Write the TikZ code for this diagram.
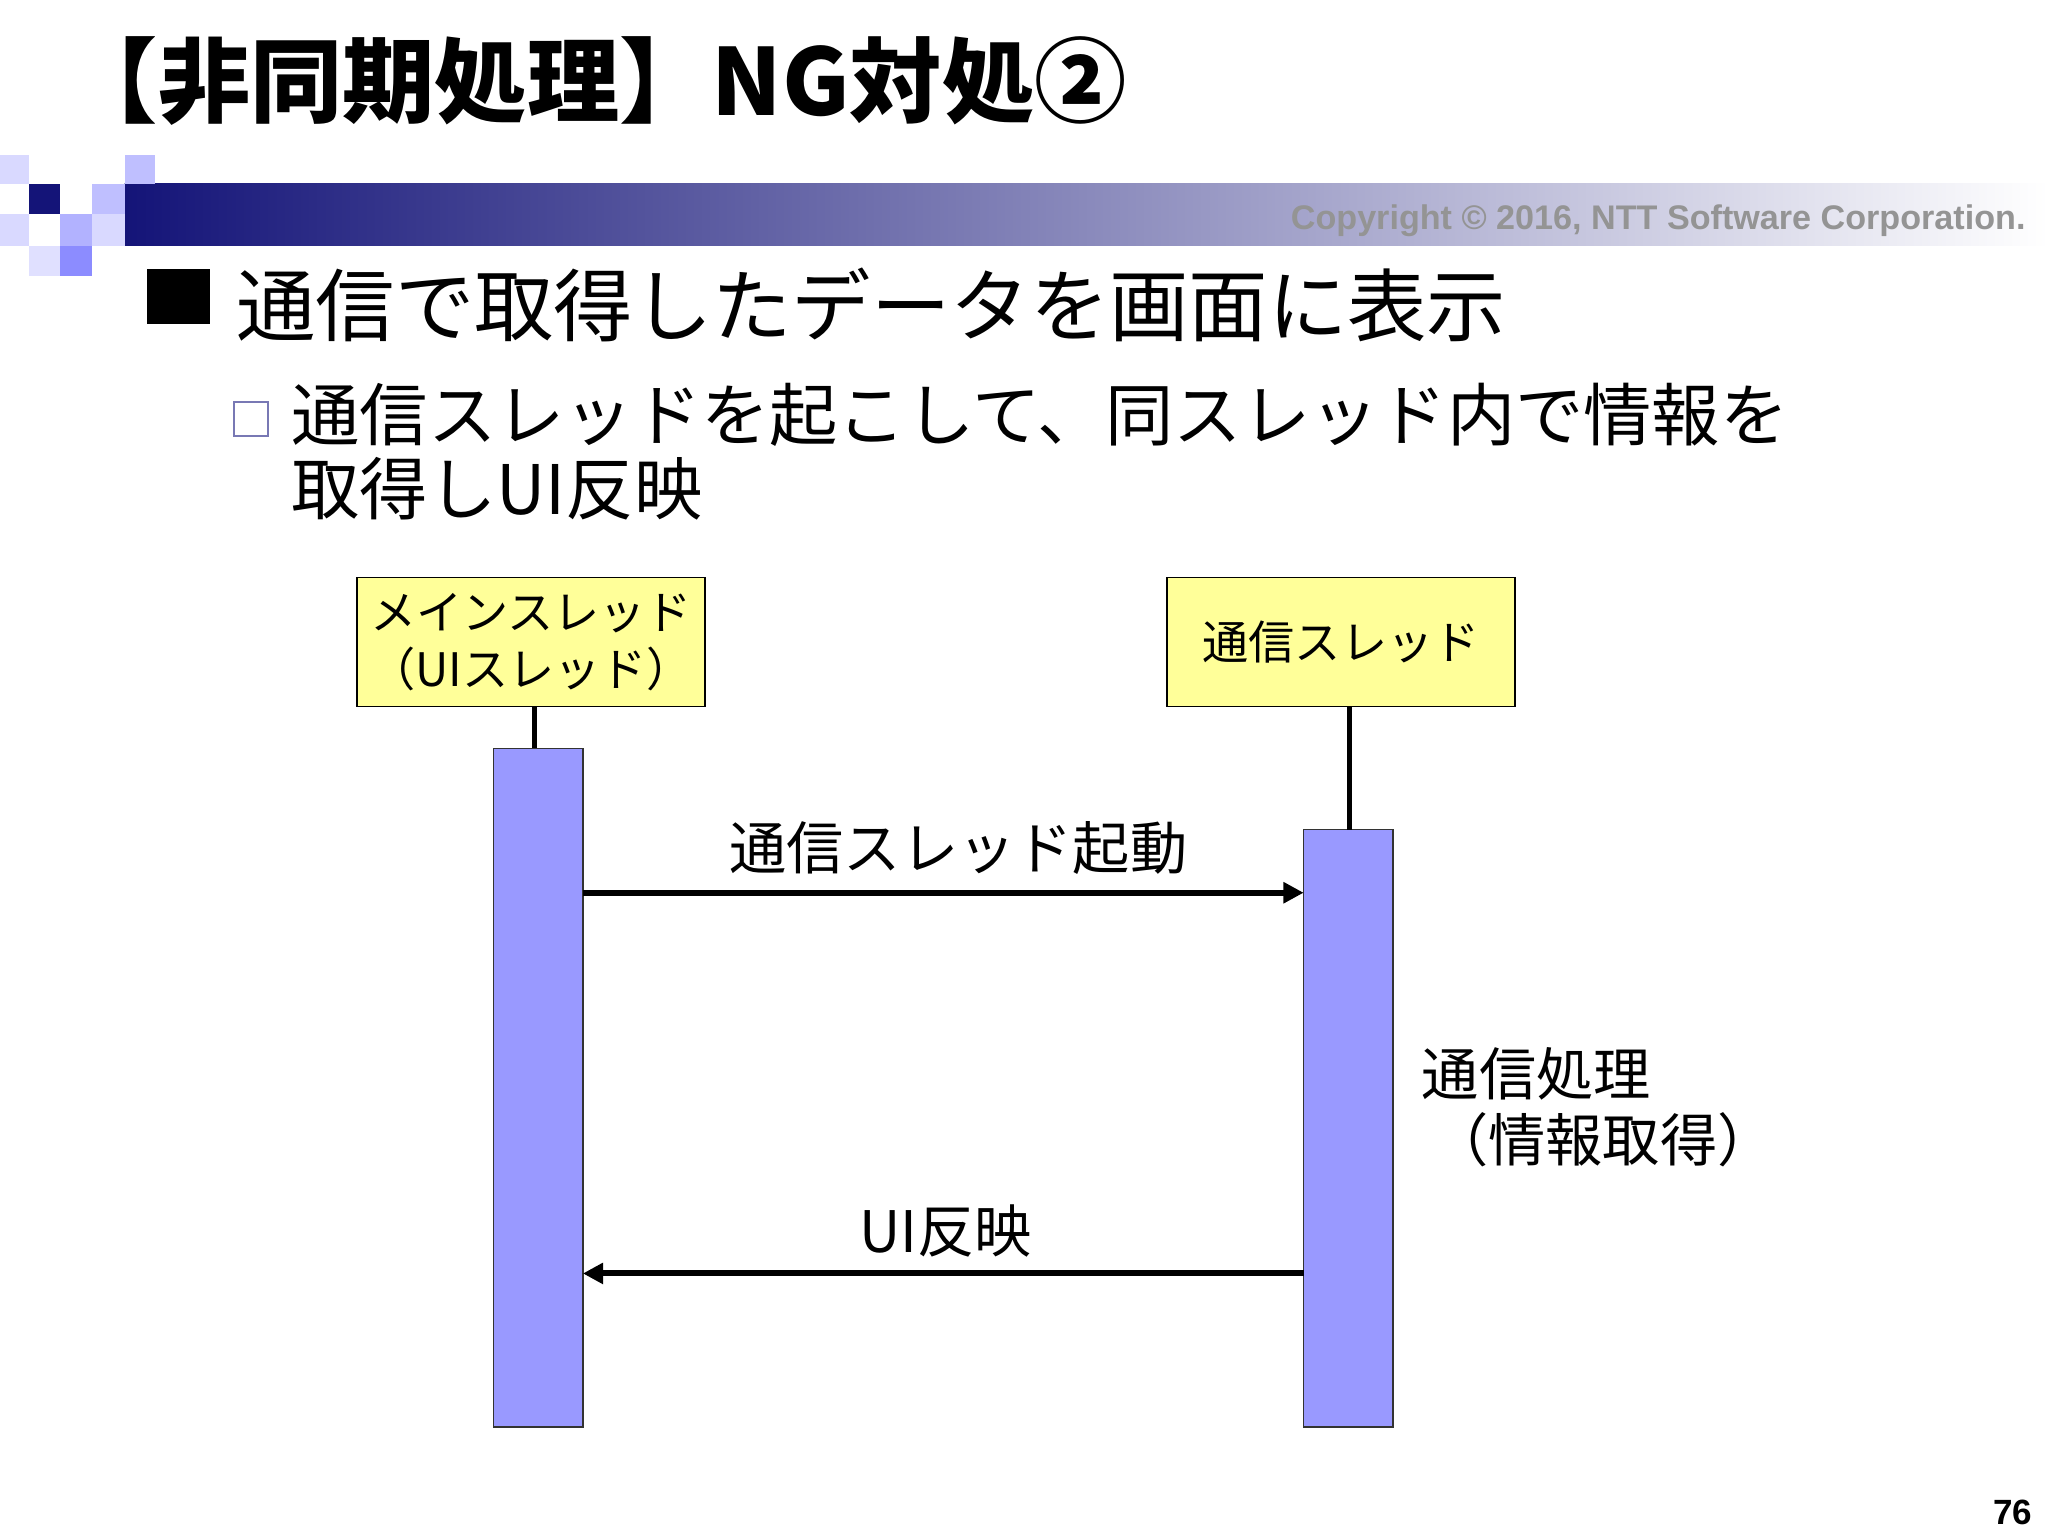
\documentclass[tikz,border=0pt]{standalone}
\usepackage{fontspec}
\setmainfont{Noto Sans CJK JP}
\newfontfamily\lat{Liberation Sans}
\usetikzlibrary{arrows.meta}
\definecolor{navy}{RGB}{20,20,120}
\definecolor{bxline}{RGB}{120,120,180}
\definecolor{barfill}{RGB}{153,153,255}
\definecolor{hdrfill}{RGB}{255,255,153}
\newcommand{\fs}[1]{\fontsize{#1}{#1}\selectfont}
\begin{document}
\begin{tikzpicture}[x=0.05cm,y=-0.05cm,
  hdr/.style={draw=black,line width=1.5pt,fill=hdrfill,minimum width=265*0.05cm,minimum height=98*0.05cm,align=center,inner sep=0pt,font=\fontsize{50}{62}\selectfont},
  bar/.style={draw=black!80,fill=barfill,line width=1.5pt},
  msg/.style={line width=6.5pt,-{Triangle[length=22pt,width=22pt]}},
  lbl/.style={font=\fs{62}}]
\useasboundingbox (0,0) rectangle (1560,1170);
\fill[white] (0,0) rectangle (1560,1170);
\shade[left color=navy, right color=white] (95,140) rectangle (1560,187);
\fill[blue!15] (0,118) rectangle (22,140);
\fill[blue!25] (95,118) rectangle (118,140);
\fill[blue!25] (70,140) rectangle (95,163);
\fill[navy] (22,140) rectangle (46,163);
\fill[blue!15] (0,163) rectangle (22,187);
\fill[blue!30] (46,163) rectangle (70,187);
\fill[blue!45] (46,187) rectangle (70,210);
\fill[blue!15] (70,163) rectangle (95,187);
\fill[blue!12] (22,187) rectangle (46,210);
\node[anchor=west,font=\fs{100}\bfseries,inner sep=0pt] (title) at (50,62) {【非同期処理】NG対処②};
\node[anchor=east,font=\lat\fs{37}\bfseries,text=black!42,inner sep=0pt] (copy) at (1543,168) {Copyright © 2016, NTT Software Corporation.};
\fill (112,205) rectangle (160,247);
\node[anchor=west,font=\fs{86},inner sep=0pt] (b1) at (180,232) {通信で取得したデータを画面に表示};
\draw[draw=bxline,line width=2pt] (178,306) rectangle (204,332);
\node[anchor=west,font=\fs{74},inner sep=0pt] (b2a) at (222,316) {通信スレッドを起こして、同スレッド内で情報を};
\node[anchor=west,font=\fs{74},inner sep=0pt] (b2b) at (222,372) {取得しUI反映};
\node[hdr] (h1) at (404.5,489) {メインスレッド\\（UIスレッド）};
\node[hdr] (h2) at (1021.5,489) {通信スレッド};
\draw[bar] (376,570) rectangle (444,1087);
\draw[bar] (993,632) rectangle (1061,1087);
\coordinate (t1) at (407,570);
\coordinate (t2) at (1028,632);
\draw[line width=6pt] (h1.south -| t1) -- (t1);
\draw[line width=6pt] (h2.south -| t2) -- (t2);
\coordinate (a1) at (444,680); \coordinate (a2) at (993,680);
\coordinate (r1) at (444,970); \coordinate (r2) at (993,970);
\draw[msg] (a1) -- (a2);
\draw[msg] (r2) -- (r1);
\node[lbl] (l1) at (730,646) {通信スレッド起動};
\node[lbl] (l2) at (720,938) {UI反映};
\node[lbl,anchor=west,inner sep=0pt] (l3) at (1083,818) {通信処理};
\node[lbl,anchor=west,inner sep=0pt] (l4) at (1090,868) {（情報取得）};
\node[font=\lat\fs{38}\bfseries,inner sep=0pt] (pg) at (1533,1152) {76};
\end{tikzpicture}
\end{document}
